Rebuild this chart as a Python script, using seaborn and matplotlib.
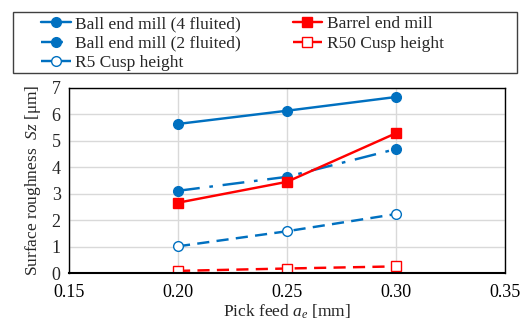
import matplotlib
matplotlib.use("Agg")
import matplotlib.pyplot as plt
import seaborn as sns
import numpy as np
from matplotlib.ticker import MultipleLocator, FormatStrFormatter
from matplotlib.patches import Rectangle

pick_feed = [0.20, 0.25, 0.30]
ball4 = [5.64, 6.14, 6.66]
ball2 = [3.11, 3.64, 4.69]
barrel = [2.66, 3.45, 5.29]
r5_cusp = [1.01, 1.58, 2.23]
r50_cusp = [0.08, 0.17, 0.25]

labels = ["Ball end mill (4 fluited)", "Ball end mill (2 fluited)", "R5 Cusp height",
          "Barrel end mill", "R50 Cusp height"]

sns.set_style("white")
plt.rcParams['font.family'] = ['Liberation Serif', 'DejaVu Serif']
plt.rcParams['mathtext.fontset'] = 'custom'
plt.rcParams['mathtext.rm'] = 'Liberation Serif'
plt.rcParams['mathtext.it'] = 'Liberation Serif:italic'

blue = "#0070C0"
red = "#FF0000"

W, H = 527, 325
fig = plt.figure(figsize=(W / 100, H / 100), dpi=100)
ax = fig.add_axes([69 / W, 1 - 273 / H, (505 - 69) / W, (273 - 88) / H])

specs = [
    (ball4, blue, "o", "-", blue, labels[0]),
    (ball2, blue, "o", (0, (9, 4, 1.5, 4)), blue, labels[1]),
    (r5_cusp, blue, "o", (0, (5, 3)), "white", labels[2]),
    (barrel, red, "s", "-", red, labels[3]),
    (r50_cusp, red, "s", (0, (5, 3)), "white", labels[4]),
]
for ys, c, m, ls, fc, lab in specs:
    sns.lineplot(x=pick_feed, y=ys, ax=ax, color=c, marker=m, linestyle=ls,
                 markerfacecolor=fc, markeredgecolor=c, markersize=7,
                 markeredgewidth=1.0, linewidth=1.75, label=lab)

ax.set_xlim(0.15, 0.35)
ax.set_ylim(0, 7)
ax.xaxis.set_major_locator(MultipleLocator(0.05))
ax.xaxis.set_minor_locator(MultipleLocator(0.01))
ax.xaxis.set_major_formatter(FormatStrFormatter("%.2f"))
ax.yaxis.set_major_locator(MultipleLocator(1))
ax.grid(True, which="major", color="#d9d9d9", linewidth=1.0)
ax.set_axisbelow(True)
ax.tick_params(axis="x", which="both", direction="in", length=4, width=1, colors="black",
               labelsize=13, pad=8, top=False)
ax.tick_params(axis="y", which="both", length=0, labelsize=13, pad=6)
for s in ax.spines.values():
    s.set_color("black")
    s.set_linewidth(1.0)
ax.spines["bottom"].set_linewidth(1.5)

ax.set_xlabel(r"Pick feed $a_e$ [mm]", fontsize=12.5, labelpad=1)
ax.set_ylabel(r"Surface roughness  $Sz$ [μm]", fontsize=12.5, labelpad=6)

ax.get_legend().remove()
handles, labs = ax.get_legend_handles_labels()
fig.patches.append(Rectangle((13 / W, 1 - 73 / H), (517 - 13) / W, (73 - 12) / H,
                             transform=fig.transFigure, fill=False,
                             edgecolor="#404040", linewidth=1.0))
leg = fig.legend(handles, labs, loc="upper left", bbox_to_anchor=(41 / W, 1 - 16 / H),
                 ncol=2, fontsize=12.5, frameon=False, borderpad=0, labelspacing=0.2,
                 handlelength=1.7, handletextpad=0.25, columnspacing=3.0,
                 borderaxespad=0)

fig.savefig("out.png", dpi=100)
